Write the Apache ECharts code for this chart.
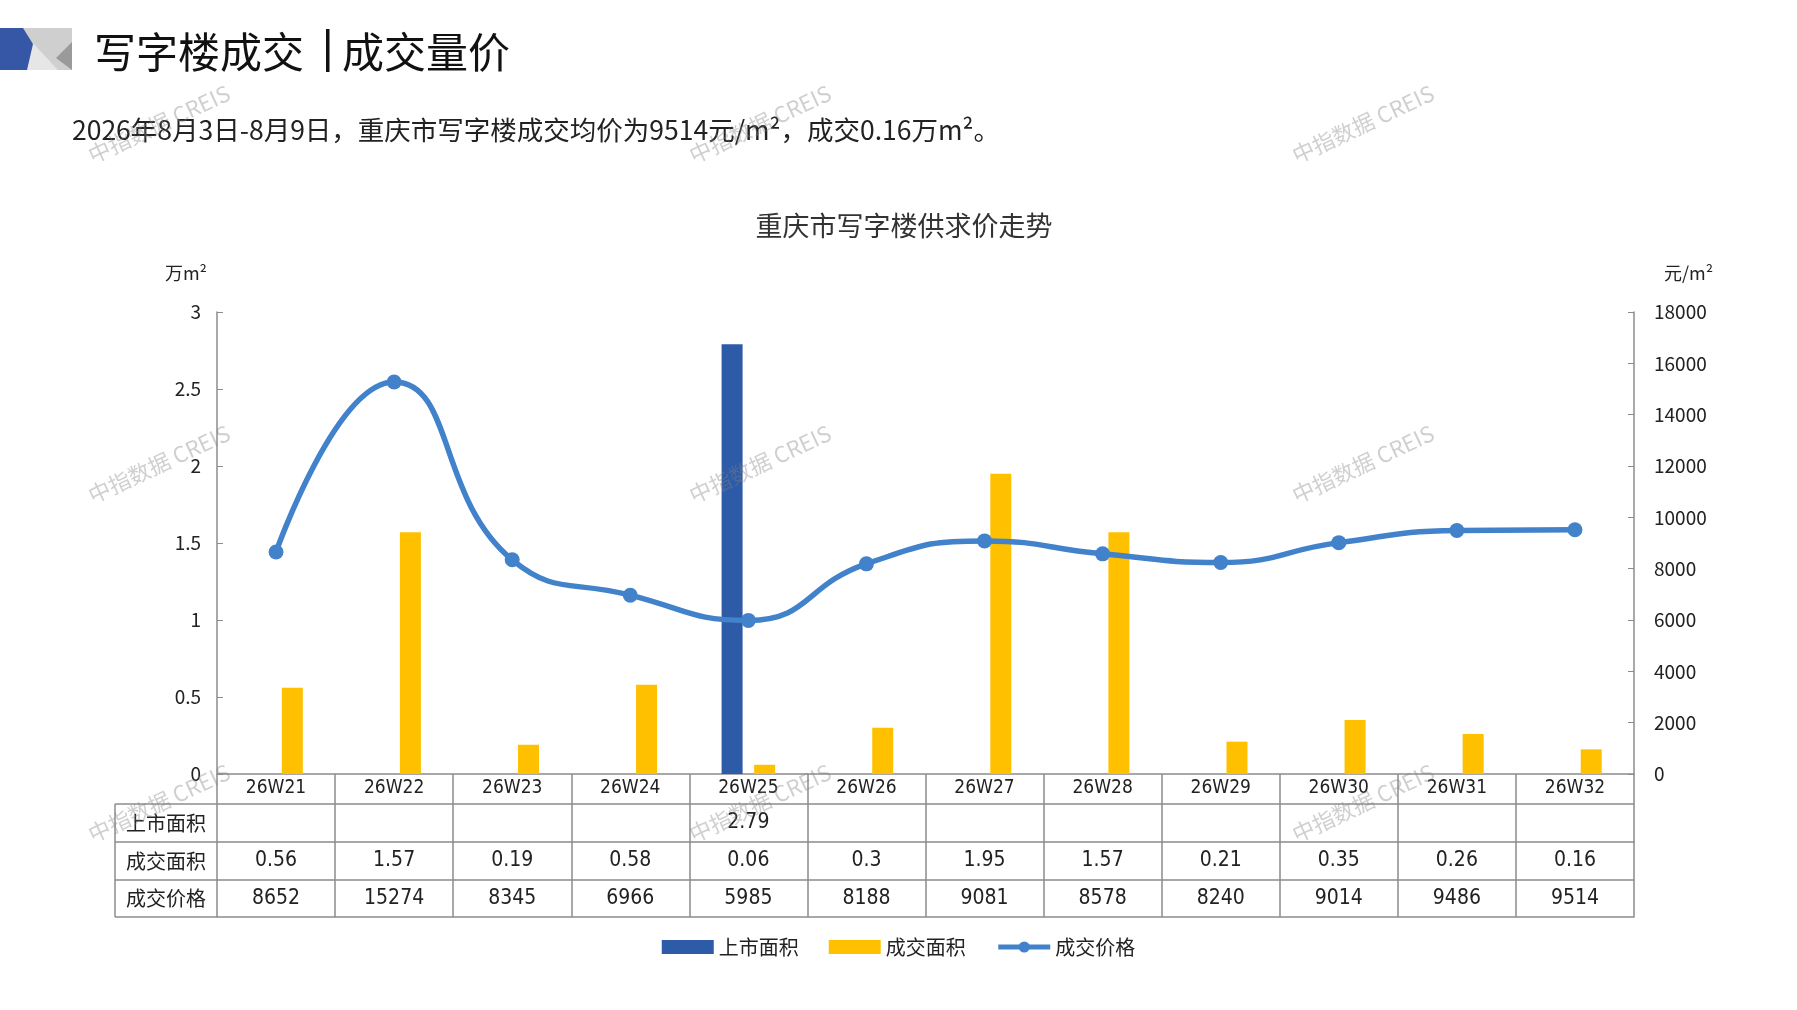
<!DOCTYPE html>
<html>
<head>
<meta charset="utf-8">
<title>重庆市写字楼供求价走势</title>
<script src="https://cdn.jsdelivr.net/npm/echarts@6/dist/echarts.min.js"></script>
<style>
  html, body { margin: 0; padding: 0; background: #fff; }
  #main { width: 1797px; height: 1010px; }
</style>
</head>
<body>
<div id="main"></div>
<script>
// 数据
var weeks = ['26W21', '26W22', '26W23', '26W24', '26W25', '26W26', '26W27', '26W28', '26W29', '26W30', '26W31', '26W32'];
var listedArea = [null, null, null, null, 2.79, null, null, null, null, null, null, null];
var dealArea = [0.56, 1.57, 0.19, 0.58, 0.06, 0.3, 1.95, 1.57, 0.21, 0.35, 0.26, 0.16];
var dealPrice = [8652, 15274, 8345, 6966, 5985, 8188, 9081, 8578, 8240, 9014, 9486, 9514];
var rowNames = ['上市面积', '成交面积', '成交价格'];

var FONT = '"Noto Sans CJK SC", sans-serif';
var NUM_FONT = '"Liberation Sans Narrow", "DejaVu Sans Condensed", "Noto Sans CJK SC", sans-serif';
var GRID_COLOR = '#8c8c8c';
var BLUE = '#2e5ba8';
var YELLOW = '#ffc000';
var LINE_BLUE = '#4282cb';

var myChart = echarts.init(document.getElementById('main'));

// 表格每一行用一条x轴来画
function tableAxis(offset, tickLen, values, fontSize, margin) {
    return {
        type: 'category',
        position: 'bottom',
        offset: offset,
        data: weeks,
        axisLine: { show: true, onZero: false, lineStyle: { color: GRID_COLOR, width: 1.5 } },
        axisTick: { show: tickLen > 0, interval: 0, length: tickLen, lineStyle: { color: GRID_COLOR, width: 1.5 } },
        axisLabel: {
            show: values !== false,
            interval: 0,
            margin: margin,
            color: '#222',
            fontSize: fontSize,
            fontFamily: NUM_FONT,
            formatter: function (v, i) {
                if (values === true) return v;
                if (!values) return '';
                return values[i] == null ? '' : String(values[i]);
            }
        },
        splitLine: { show: false }
    };
}

// 水印
var marks = [];
[124, 464, 803].forEach(function (y) {
    [159, 760, 1363].forEach(function (x) {
        marks.push({
            type: 'text', x: x, y: y, rotation: 25 * Math.PI / 180, z: 100,
            style: {
                text: '中指数据 CREIS', fill: 'rgba(130,130,130,0.38)',
                font: '22px ' + FONT, align: 'center', verticalAlign: 'middle'
            }
        });
    });
});

// 表头左列
var leftCol = [];
var rowY = [804, 842, 880, 917];
rowY.forEach(function (y) {
    leftCol.push({ type: 'line', shape: { x1: 115, y1: y, x2: 217, y2: y }, style: { stroke: GRID_COLOR, lineWidth: 1.5 } });
});
leftCol.push({ type: 'line', shape: { x1: 115, y1: rowY[0], x2: 115, y2: rowY[3] }, style: { stroke: GRID_COLOR, lineWidth: 1.5 } });
rowNames.forEach(function (n, i) {
    leftCol.push({
        type: 'text', x: 166, y: (rowY[i] + rowY[i + 1]) / 2,
        style: { text: n, fill: '#222', font: '20px ' + FONT, align: 'center', verticalAlign: 'middle' }
    });
});

var option = {
    backgroundColor: '#fff',
    animation: false,
    legend: {
        left: 'center',
        top: 932,
        itemWidth: 52,
        itemHeight: 14,
        itemGap: 30,
        lineStyle: { width: 5 },
        textStyle: { fontFamily: FONT, fontSize: 20, color: '#222' },
        data: [
            { name: '上市面积', icon: 'rect', itemHeight: 12 },
            { name: '成交面积', icon: 'rect' },
            { name: '成交价格' }
        ]
    },
    grid: { left: 217, right: 163, top: 312, bottom: 236, containLabel: false },
    xAxis: [
        tableAxis(0, 30, true, 19, 5),
        tableAxis(30, 38, listedArea, 21, 8),
        tableAxis(68, 38, dealArea, 21, 8),
        tableAxis(106, 37, dealPrice, 21, 8),
        tableAxis(143, 0, false, 12, 0)
    ],
    yAxis: [
        {
            type: 'value',
            min: 0, max: 3, interval: 0.5,
            name: '万m²',
            nameLocation: 'end',
            nameGap: 30,
            nameTextStyle: { fontFamily: FONT, fontSize: 18, color: '#222', align: 'right', padding: [0, 10, 0, 0] },
            axisLine: { show: true, lineStyle: { color: GRID_COLOR, width: 1.5 } },
            axisTick: { show: true, inside: true, length: 6, lineStyle: { color: GRID_COLOR } },
            axisLabel: { margin: 16, color: '#222', fontSize: 19, fontFamily: FONT },
            splitLine: { show: false }
        },
        {
            type: 'value',
            min: 0, max: 18000, interval: 2000,
            name: '元/m²',
            nameLocation: 'end',
            nameGap: 30,
            nameTextStyle: { fontFamily: FONT, fontSize: 18, color: '#222', align: 'left', padding: [0, 0, 0, 30] },
            axisLine: { show: true, lineStyle: { color: GRID_COLOR, width: 1.5 } },
            axisTick: { show: true, inside: true, length: 6, lineStyle: { color: GRID_COLOR } },
            axisLabel: {
                margin: 20, color: '#222', fontSize: 19, fontFamily: FONT,
                formatter: function (v) { return String(v); }
            },
            splitLine: { show: false }
        }
    ],
    series: [
        {
            name: '上市面积',
            type: 'bar',
            data: listedArea,
            barWidth: 21,
            barGap: '55%',
            itemStyle: { color: BLUE }
        },
        {
            name: '成交面积',
            type: 'bar',
            data: dealArea,
            barWidth: 21,
            itemStyle: { color: YELLOW }
        },
        {
            name: '成交价格',
            type: 'line',
            yAxisIndex: 1,
            data: dealPrice,
            smooth: 0.5,
            symbol: 'circle',
            symbolSize: 15,
            z: 5,
            itemStyle: { color: LINE_BLUE },
            lineStyle: { color: LINE_BLUE, width: 5.5 }
        }
    ],
    graphic: [
        // 页眉装饰
        { type: 'polygon', shape: { points: [[23, 28], [72, 28], [72, 70], [27, 70]] }, style: { fill: '#cfcfcf' } },
        { type: 'polygon', shape: { points: [[30, 40], [58, 70], [27, 70]] }, style: { fill: '#e6e6e6' } },
        { type: 'polygon', shape: { points: [[72, 42], [72, 70], [56, 58]] }, style: { fill: '#9a9a9a' } },
        { type: 'polygon', shape: { points: [[0, 28], [23, 28], [33, 44], [27, 70], [0, 70]] }, style: { fill: '#3656a6' } },
        {
            type: 'text', x: 94, y: 52,
            style: { text: '写字楼成交', fill: '#111', font: '42px ' + FONT, verticalAlign: 'middle' }
        },
        { type: 'rect', shape: { x: 326, y: 29, width: 3.5, height: 43 }, style: { fill: '#111' } },
        {
            type: 'text', x: 342, y: 52,
            style: { text: '成交量价', fill: '#111', font: '42px ' + FONT, verticalAlign: 'middle' }
        },
        {
            type: 'text', x: 72, y: 130,
            style: { text: '2026年8月3日-8月9日，重庆市写字楼成交均价为9514元/m²，成交0.16万m²。', fill: '#222', font: '26.5px ' + FONT, verticalAlign: 'middle' }
        },
        {
            type: 'text', x: 904, y: 226,
            style: { text: '重庆市写字楼供求价走势', fill: '#333', font: '27px ' + FONT, align: 'center', verticalAlign: 'middle' }
        }
    ].concat(leftCol, marks)
};

myChart.setOption(option);
</script>
</body>
</html>
